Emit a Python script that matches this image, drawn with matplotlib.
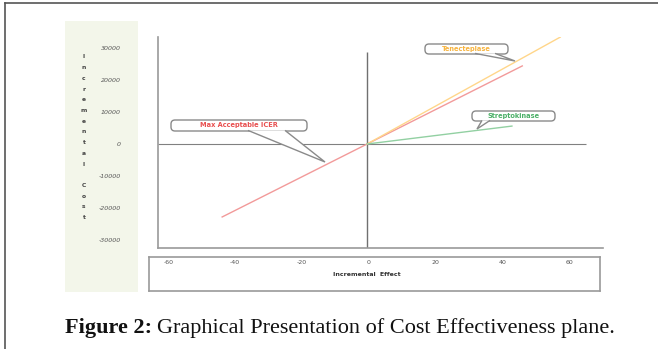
import matplotlib.pyplot as plt
from matplotlib.patches import FancyBboxPatch, Polygon, Rectangle

# data
icer_effect = [-42, 45]
icer_cost = [-22800, 24400]
tnk_effect = [0, 56]
tnk_cost = [0, 33400]
sk_effect = [0, 42]
sk_cost = [0, 5600]

y_ticks = [30000, 20000, 10000, 0, -10000, -20000, -30000]
x_ticks = [-60, -40, -20, 0, 20, 40, 60]
y_letters = "Incremental Cost"

W, H = 658, 349
fig = plt.figure(figsize=(W / 100, H / 100), dpi=100)


def px_axes(x0, y0, x1, y1, **kw):
    """axes placed by pixel box (origin top-left)"""
    return fig.add_axes([x0 / W, (H - y1) / H, (x1 - x0) / W, (y1 - y0) / H], **kw)


# background layer: page frame, green panel, caption
back = px_axes(0, 0, W, H, zorder=0)
back.set_xlim(0, W)
back.set_ylim(H, 0)
back.axis('off')
back.plot([5, W], [3, 3], color='#555555', lw=1.2)
back.plot([5, 5], [3, H], color='#555555', lw=1.2)
back.add_patch(Rectangle((65, 21), 73, 271, facecolor='#f3f6ea', edgecolor='none'))
for i, ch in enumerate(y_letters):
    back.text(84, 57 + i * 10.7, ch, fontsize=4.3, fontweight='bold', color='#444444',
              ha='center', va='center')

# caption: bold part, then the rest right after it
t1 = back.text(65, 333, "Figure 2:", fontsize=16, fontweight='bold', family='Liberation Serif',
               va='baseline', ha='left', color='#111111')
fig.canvas.draw()
bb = t1.get_window_extent()
back.text(bb.x1 + 5, 333, "Graphical Presentation of Cost Effectiveness plane.", fontsize=16,
          family='Liberation Serif', va='baseline', ha='left', color='#111111')

# main plane
ax = px_axes(158, 37, 603, 248, zorder=2)
ax.set_facecolor('none')
ax.set_xlim(-60.6, 68.4)
ax.set_ylim(-32500, 33440)
for s in ['top', 'right']:
    ax.spines[s].set_visible(False)
for s in ['left', 'bottom']:
    ax.spines[s].set_color('#9a9a9a')
    ax.spines[s].set_linewidth(1.2)
ax.hlines(0, -60.6, 63.5, color='#808080', lw=0.8)
ax.vlines(0, -32500, 28750, color='#707070', lw=1.0)
ax.plot(icer_effect, icer_cost, color='#f29a9a', lw=1.0)
ax.plot(tnk_effect, tnk_cost, color='#ffd68a', lw=1.0)
ax.plot(sk_effect, sk_cost, color='#92d0a2', lw=1.0)
ax.set_xticks([])
ax.set_yticks(y_ticks)
ax.set_yticklabels([str(v) for v in y_ticks], fontsize=4.5, style='italic', color='#555555')
ax.tick_params(axis='y', length=0, pad=27)

# x label box
bx = px_axes(149, 257, 600, 291, zorder=2)
bx.set_facecolor('none')
bx.set_xlim(-65.75, 69.04)
bx.set_yticks([])
for s in bx.spines.values():
    s.set_color('#9a9a9a')
    s.set_linewidth(1.2)
bx.set_xticks(x_ticks)
bx.set_xticklabels([str(v) for v in x_ticks], fontsize=4.5, color='#555555')
bx.tick_params(axis='x', length=0, top=False, bottom=False, labeltop=True,
               labelbottom=False, pad=-6)
bx.text(0.483, 0.5, "Incremental  Effect", transform=bx.transAxes, fontsize=4.5,
        fontweight='bold', color='#333333', ha='center', va='center')

# callouts on top
front = px_axes(0, 0, W, H, zorder=5)
front.set_xlim(0, W)
front.set_ylim(H, 0)
front.axis('off')
front.patch.set_visible(False)

callouts = [
    ("Max Acceptable ICER", '#e85050', (171, 120, 307, 131), (248, 285), (325, 162)),
    ("Tenecteplase", '#f7b440', (425, 44, 508, 54), (475, 495), (515, 61)),
    ("Streptokinase", '#4cb068', (472, 111, 555, 121), (482, 490), (477, 129)),
]
for label, col, (x0, y0, x1, y1), (b0, b1), tip in callouts:
    front.add_patch(FancyBboxPatch((x0, y0), x1 - x0, y1 - y0,
                                   boxstyle="round,pad=0,rounding_size=4",
                                   facecolor='white', edgecolor='#8a8a8a', lw=1.0))
    front.add_patch(Polygon([(b0, y1 - 0.6), tip, (b1, y1 - 0.6)], closed=False,
                            facecolor='white', edgecolor='#8a8a8a', lw=1.0))
    front.text((x0 + x1) / 2, (y0 + y1) / 2, label, color=col, fontsize=4.8,
               fontweight='bold', ha='center', va='center')

fig.savefig('out.png', dpi=100)
